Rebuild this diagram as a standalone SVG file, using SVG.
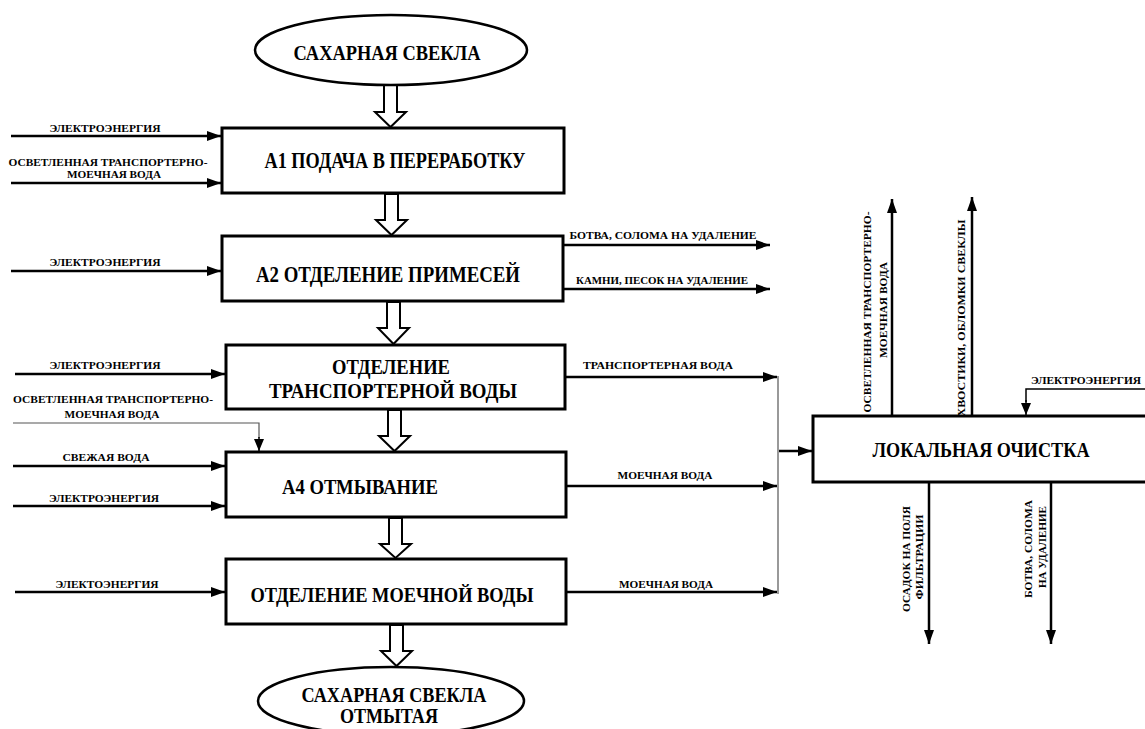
<svg xmlns="http://www.w3.org/2000/svg" width="1145" height="729" viewBox="0 0 1145 729">
<style>
.box{fill:#fff;stroke:#000;stroke-width:3}
.ell{fill:#fff;stroke:#000;stroke-width:2.5}
.hol{fill:#fff;stroke:#000;stroke-width:2;stroke-linejoin:miter}
.ln{fill:none;stroke:#000;stroke-width:2.5}
.thin{fill:none;stroke:#555;stroke-width:1.2}
.t{font-family:"Liberation Serif","Times New Roman",serif;font-weight:bold;fill:#000}
.big{font-size:24px}
.mid{font-size:21px}
.sm{font-size:11px}
</style>
<defs>
<marker id="ah" viewBox="0 0 14 10" refX="14" refY="5" markerWidth="14" markerHeight="10" markerUnits="userSpaceOnUse" orient="auto"><path d="M0,0 L14,5 L0,10 z" fill="#000"/></marker>
<marker id="ahs" viewBox="0 0 12 10" refX="12" refY="5" markerWidth="12" markerHeight="10" markerUnits="userSpaceOnUse" orient="auto"><path d="M0,0 L12,5 L0,10 z" fill="#000"/></marker>
</defs>

<g id="connectors">
<!-- hollow flow arrows -->
<polygon class="hol" points="384,85 397,85 397,112 406,112 390.5,127 375,112 384,112"/>
<polygon class="hol" points="385,194 398,194 398,220 407,220 391.5,235 376,220 385,220"/>
<polygon class="hol" points="387,302 400,302 400,328 409,328 393.5,344 378,328 387,328"/>
<polygon class="hol" points="388,410 401,410 401,436 410,436 394.5,451 379,436 388,436"/>
<polygon class="hol" points="389,518 402,518 402,544 411,544 395.5,558 380,544 389,544"/>
<polygon class="hol" points="390,625 403,625 403,651 412,651 396.5,666 381,651 390,651"/>

<!-- left inputs -->
<line class="ln" x1="11" y1="136" x2="221" y2="136" marker-end="url(#ah)"/>
<line class="ln" x1="11" y1="183" x2="221" y2="183" marker-end="url(#ah)"/>
<line class="ln" x1="11" y1="271" x2="221" y2="271" marker-end="url(#ah)"/>
<line class="ln" x1="15" y1="374" x2="225" y2="374" marker-end="url(#ah)"/>
<polyline class="thin" points="13,423 259,423 259,438"/>
<line x1="259" y1="437" x2="259" y2="451" stroke="#000" stroke-width="1.5" marker-end="url(#ahs)"/>
<line class="ln" x1="13" y1="466" x2="225" y2="466" marker-end="url(#ah)"/>
<line class="ln" x1="13" y1="506" x2="225" y2="506" marker-end="url(#ah)"/>
<line class="ln" x1="15" y1="592" x2="225" y2="592" marker-end="url(#ah)"/>

<!-- right outputs -->
<line class="ln" x1="563" y1="245" x2="770" y2="245" marker-end="url(#ah)"/>
<line class="ln" x1="563" y1="289" x2="770" y2="289" marker-end="url(#ah)"/>
<line class="ln" x1="566" y1="377" x2="777" y2="377" marker-end="url(#ah)"/>
<line class="ln" x1="566" y1="486" x2="777" y2="486" marker-end="url(#ah)"/>
<line class="ln" x1="566" y1="592" x2="777" y2="592" marker-end="url(#ah)"/>
<line class="thin" x1="778" y1="376" x2="778" y2="594"/>
<line class="ln" x1="779" y1="451" x2="812" y2="451" marker-end="url(#ah)"/>

<!-- local treatment arrows -->
<line class="ln" x1="892" y1="416" x2="892" y2="199" marker-end="url(#ah)"/>
<line class="ln" x1="972" y1="416" x2="972" y2="197" marker-end="url(#ah)"/>
<polyline fill="none" stroke="#000" stroke-width="1.5" points="1146,389 1026,389 1026,402"/>
<line x1="1026" y1="400" x2="1026" y2="415" stroke="#000" stroke-width="1.5" marker-end="url(#ahs)"/>
<line class="ln" x1="929" y1="483" x2="929" y2="644" marker-end="url(#ah)"/>
<line class="ln" x1="1051" y1="483" x2="1051" y2="644" marker-end="url(#ah)"/>
</g>

<g id="beet-in">
<ellipse class="ell" cx="391" cy="50" rx="136" ry="35"/>
<text class="t mid" x="387" y="60" text-anchor="middle" textLength="187" lengthAdjust="spacingAndGlyphs">САХАРНАЯ  СВЕКЛА</text>
</g>

<g id="a1">
<rect class="box" x="222" y="128" width="342" height="65"/>
<text class="t big" x="395" y="168" text-anchor="middle" textLength="261" lengthAdjust="spacingAndGlyphs">А1 ПОДАЧА В ПЕРЕРАБОТКУ</text>
</g>

<g id="a2">
<rect class="box" x="222" y="236" width="341" height="65"/>
<text class="t" style="font-size:23px" x="388" y="282" text-anchor="middle" textLength="264" lengthAdjust="spacingAndGlyphs">А2 ОТДЕЛЕНИЕ ПРИМЕСЕЙ</text>
</g>

<g id="a3">
<rect class="box" x="226" y="345" width="339" height="64"/>
<text class="t" style="font-size:20px" x="391" y="374" text-anchor="middle" textLength="118" lengthAdjust="spacingAndGlyphs">ОТДЕЛЕНИЕ</text>
<text class="t" style="font-size:20px" x="393" y="398" text-anchor="middle" textLength="248" lengthAdjust="spacingAndGlyphs">ТРАНСПОРТЕРНОЙ  ВОДЫ</text>
</g>

<g id="a4">
<rect class="box" x="226" y="452" width="340" height="65"/>
<text class="t" style="font-size:20px" x="282" y="494" textLength="156" lengthAdjust="spacingAndGlyphs">А4 ОТМЫВАНИЕ</text>
</g>

<g id="a5">
<rect class="box" x="226" y="559" width="340" height="65"/>
<text class="t" style="font-size:22px" x="392" y="602" text-anchor="middle" textLength="283" lengthAdjust="spacingAndGlyphs">ОТДЕЛЕНИЕ МОЕЧНОЙ ВОДЫ</text>
</g>

<g id="beet-out">
<ellipse class="ell" cx="391" cy="701" rx="133" ry="34"/>
<text class="t mid" x="394" y="702" text-anchor="middle" textLength="185" lengthAdjust="spacingAndGlyphs">САХАРНАЯ  СВЕКЛА</text>
<text class="t" style="font-size:20px" x="389" y="723" text-anchor="middle" textLength="98" lengthAdjust="spacingAndGlyphs">ОТМЫТАЯ</text>
</g>

<g id="local">
<rect class="box" x="813" y="416" width="340" height="66"/>
<text class="t mid" x="981" y="457" text-anchor="middle" textLength="217" lengthAdjust="spacingAndGlyphs">ЛОКАЛЬНАЯ ОЧИСТКА</text>
</g>

<g id="labels">
<text class="t sm" x="105" y="132" text-anchor="middle" textLength="111" lengthAdjust="spacingAndGlyphs">ЭЛЕКТРОЭНЕРГИЯ</text>
<text class="t sm" x="108" y="166" text-anchor="middle" textLength="199" lengthAdjust="spacingAndGlyphs">ОСВЕТЛЕННАЯ ТРАНСПОРТЕРНО-</text>
<text class="t sm" x="114" y="178" text-anchor="middle" textLength="94" lengthAdjust="spacingAndGlyphs">МОЕЧНАЯ ВОДА</text>
<text class="t sm" x="105" y="266" text-anchor="middle" textLength="111" lengthAdjust="spacingAndGlyphs">ЭЛЕКТРОЭНЕРГИЯ</text>
<text class="t sm" x="105" y="369" text-anchor="middle" textLength="111" lengthAdjust="spacingAndGlyphs">ЭЛЕКТРОЭНЕРГИЯ</text>
<text class="t sm" x="113" y="403" text-anchor="middle" textLength="200" lengthAdjust="spacingAndGlyphs">ОСВЕТЛЕННАЯ ТРАНСПОРТЕРНО-</text>
<text class="t sm" x="112" y="418" text-anchor="middle" textLength="95" lengthAdjust="spacingAndGlyphs">МОЕЧНАЯ ВОДА</text>
<text class="t sm" x="106" y="461" text-anchor="middle" textLength="87" lengthAdjust="spacingAndGlyphs">СВЕЖАЯ ВОДА</text>
<text class="t sm" x="104" y="502" text-anchor="middle" textLength="110" lengthAdjust="spacingAndGlyphs">ЭЛЕКТРОЭНЕРГИЯ</text>
<text class="t sm" x="107" y="588" text-anchor="middle" textLength="103" lengthAdjust="spacingAndGlyphs">ЭЛЕКТОЭНЕРГИЯ</text>

<text class="t sm" x="663" y="239" text-anchor="middle" textLength="187" lengthAdjust="spacingAndGlyphs">БОТВА, СОЛОМА  НА УДАЛЕНИЕ</text>
<text class="t sm" x="662" y="284" text-anchor="middle" textLength="172" lengthAdjust="spacingAndGlyphs">КАМНИ, ПЕСОК НА УДАЛЕНИЕ</text>
<text class="t sm" x="658" y="369" text-anchor="middle" textLength="150" lengthAdjust="spacingAndGlyphs">ТРАНСПОРТЕРНАЯ  ВОДА</text>
<text class="t sm" x="665" y="479" text-anchor="middle" textLength="95" lengthAdjust="spacingAndGlyphs">МОЕЧНАЯ ВОДА</text>
<text class="t sm" x="666" y="588" text-anchor="middle" textLength="94" lengthAdjust="spacingAndGlyphs">МОЕЧНАЯ ВОДА</text>

<text class="t sm" x="1086" y="384" text-anchor="middle" textLength="110" lengthAdjust="spacingAndGlyphs">ЭЛЕКТРОЭНЕРГИЯ</text>

<text class="t sm" transform="translate(871,312) rotate(-90)" text-anchor="middle" textLength="201" lengthAdjust="spacingAndGlyphs">ОСВЕТЛЕННАЯ  ТРАНСПОРТЕРНО-</text>
<text class="t sm" transform="translate(887,310) rotate(-90)" text-anchor="middle" textLength="96" lengthAdjust="spacingAndGlyphs">МОЕЧНАЯ ВОДА</text>
<text class="t sm" transform="translate(965,318) rotate(-90)" text-anchor="middle" textLength="197" lengthAdjust="spacingAndGlyphs">ХВОСТИКИ, ОБЛОМКИ СВЕКЛЫ</text>
<text class="t sm" transform="translate(910,559) rotate(-90)" text-anchor="middle" textLength="106" lengthAdjust="spacingAndGlyphs">ОСАДОК НА ПОЛЯ</text>
<text class="t sm" transform="translate(923,557) rotate(-90)" text-anchor="middle" textLength="85" lengthAdjust="spacingAndGlyphs">ФИЛЬТРАЦИИ</text>
<text class="t sm" transform="translate(1032,549) rotate(-90)" text-anchor="middle" textLength="98" lengthAdjust="spacingAndGlyphs">БОТВА, СОЛОМА</text>
<text class="t sm" transform="translate(1046,547) rotate(-90)" text-anchor="middle" textLength="82" lengthAdjust="spacingAndGlyphs">НА УДАЛЕНИЕ</text>
</g>
</svg>
